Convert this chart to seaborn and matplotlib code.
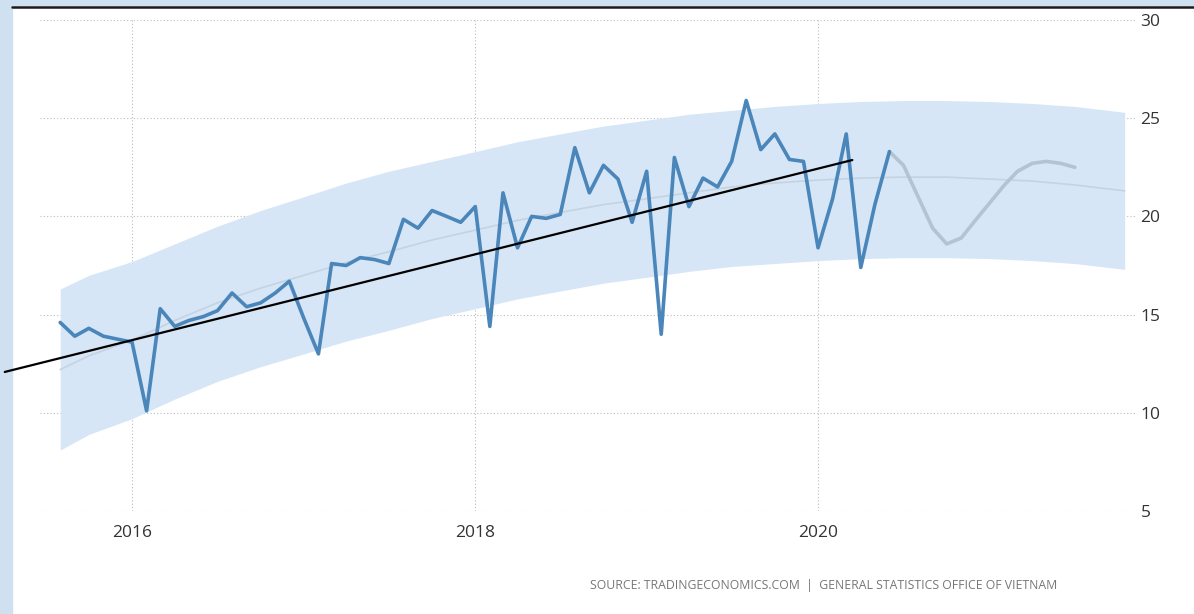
import pandas as pd

import matplotlib.pyplot as plt

import seaborn as sns

from matplotlib.patches import Rectangle

from matplotlib.lines import Line2D


# monthly readings, Aug 2015 .. Jun 2020
actual_months = pd.date_range("2015-08-01", "2020-06-01", freq="MS")

actual_values = [
    14.6, 13.9, 14.3, 13.9, 13.75,
    13.6, 10.1, 15.3, 14.4, 14.7, 14.9, 15.2, 16.1, 15.4, 15.6, 16.1, 16.7,
    14.8, 13.0, 17.6, 17.5, 17.9, 17.8, 17.6, 19.85, 19.4, 20.3, 20.0, 19.7,
    20.5, 14.4, 21.2, 18.4, 20.0, 19.9, 20.1, 23.5, 21.2, 22.6, 21.9, 19.7,
    22.3, 14.0, 23.0, 20.5, 21.95, 21.5, 22.8, 25.9, 23.4, 24.2, 22.9, 22.8,
    18.4, 20.9, 24.2, 17.4, 20.6, 23.3,
]

# forecast, Jun 2020 .. Jul 2021
forecast_months = pd.date_range("2020-06-01", "2021-07-01", freq="MS")

forecast_values = [
    23.3, 22.6, 21.0, 19.4, 18.6, 18.9, 19.8,
    20.7, 21.6, 22.3, 22.7, 22.8, 22.7, 22.5,
]

# trend band, read off roughly every quarter
band_dates = pd.to_datetime([
    "2015-08-01", "2015-10-01",
    "2016-01-01", "2016-04-01", "2016-07-01", "2016-10-01",
    "2017-01-01", "2017-04-01", "2017-07-01", "2017-10-01",
    "2018-01-01", "2018-04-01", "2018-07-01", "2018-10-01",
    "2019-01-01", "2019-04-01", "2019-07-01", "2019-10-01",
    "2020-01-01", "2020-04-01", "2020-07-01", "2020-10-01",
    "2021-01-01", "2021-04-01", "2021-07-01", "2021-10-15",
])

band_trend = [
    12.2, 12.9,
    13.7, 14.7, 15.6, 16.35,
    17.0, 17.65, 18.2, 18.8,
    19.3, 19.8, 20.2, 20.6,
    20.9, 21.2, 21.5, 21.7,
    21.85, 21.95, 22.0, 22.0,
    21.9, 21.8, 21.6, 21.3,
]

band_upper = [
    16.3, 17.0,
    17.7, 18.6, 19.5, 20.3,
    21.0, 21.7, 22.3, 22.8,
    23.3, 23.8, 24.2, 24.6,
    24.9, 25.2, 25.4, 25.6,
    25.75, 25.85, 25.9, 25.9,
    25.85, 25.75, 25.6, 25.3,
]

band_lower = [
    8.1, 8.9,
    9.7, 10.7, 11.6, 12.35,
    13.0, 13.65, 14.2, 14.8,
    15.3, 15.8, 16.2, 16.6,
    16.9, 17.2, 17.45, 17.6,
    17.75, 17.85, 17.9, 17.9,
    17.85, 17.75, 17.6, 17.3,
]

# hand drawn black trend line
trend_line_dates = pd.to_datetime(["2015-04-05", "2020-03-14"])

trend_line_values = [12.08, 22.87]

y_ticks = [5, 10, 15, 20, 25, 30]

x_tick_years = ["2016", "2018", "2020"]

source_text = "SOURCE: TRADINGECONOMICS.COM  |  GENERAL STATISTICS OFFICE OF VIETNAM"


def draw_chart():

    sns.set_style("white")

    plt.rcParams["font.family"] = ["Open Sans", "DejaVu Sans"]

    W, H = 1194, 614

    fig = plt.figure(figsize=(W / 100, H / 100), dpi=100)

    fig.patch.set_facecolor("white")

    ax = fig.add_axes([40 / W, 1 - 511 / H, (1135 - 40) / W, (511 - 20) / H])

    ax.fill_between(
        band_dates, band_lower, band_upper,
        color="#d6e6f7", linewidth=0, zorder=1
    )

    sns.lineplot(
        x=band_dates, y=band_trend, ax=ax,
        color="#c5d3e0", linewidth=1.2, zorder=2
    )

    sns.lineplot(
        x=forecast_months, y=forecast_values, ax=ax,
        color="#b4c3d1", linewidth=2.6, zorder=3
    )

    sns.lineplot(
        x=actual_months, y=actual_values, ax=ax,
        color="#4a86b9", linewidth=2.6, zorder=4
    )

    ax.plot(
        trend_line_dates, trend_line_values,
        color="black", linewidth=1.6, zorder=6, clip_on=False
    )

    ax.set_xlim(pd.Timestamp("2015-06-19"), pd.Timestamp("2021-11-06"))

    ax.set_ylim(5, 30)

    ax.set_yticks(y_ticks)

    ax.set_yticklabels([str(v) for v in y_ticks])

    ax.set_xticks(pd.to_datetime([y + "-01-01" for y in x_tick_years]))

    ax.set_xticklabels(x_tick_years)

    ax.yaxis.tick_right()

    ax.tick_params(axis="y", length=0, pad=4, labelsize=12.5, labelcolor="#333333")

    ax.tick_params(axis="x", length=0, pad=10, labelsize=12.5, labelcolor="#333333")

    ax.set_xlabel("")

    ax.set_ylabel("")

    for spine in ax.spines.values():
        spine.set_visible(False)

    ax.grid(True, linestyle=(0, (1, 2)), color="#bcbcbc", linewidth=0.8)

    ax.set_axisbelow(True)

    # page frame
    fig.add_artist(Rectangle((0, 0), 12 / W, 1, transform=fig.transFigure,
                             color="#cfe0f1", zorder=0))

    fig.add_artist(Rectangle((0, 1 - 5 / H), 1, 5 / H, transform=fig.transFigure,
                             color="#cfe0f1", zorder=0))

    fig.add_artist(Line2D([12 / W, 1], [1 - 6.5 / H, 1 - 6.5 / H],
                          transform=fig.transFigure, color="#1a1a1a", linewidth=1.8))

    fig.text(1057 / W, 1 - 585 / H, source_text, ha="right", va="center",
             fontsize=8.8, color="#777777")

    fig.savefig("out.png", dpi=100)


if __name__ == "__main__":

    draw_chart()
